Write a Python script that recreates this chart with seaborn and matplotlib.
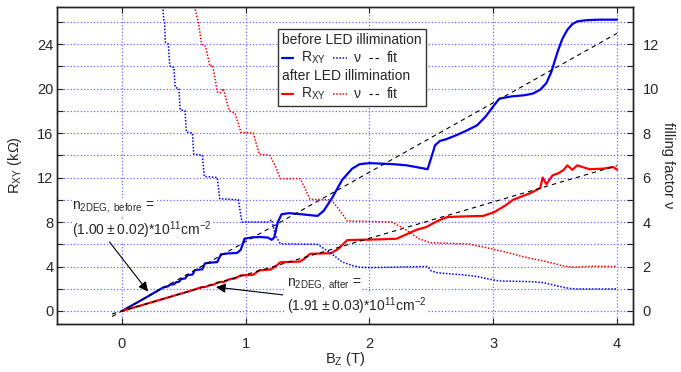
import numpy as np
import pandas as pd
import seaborn as sns
import matplotlib
matplotlib.use("Agg")
import matplotlib.pyplot as plt
from matplotlib.lines import Line2D
from matplotlib.ticker import MultipleLocator
from matplotlib.offsetbox import (AnchoredOffsetbox, VPacker, HPacker,
                                  TextArea, DrawingArea)

# ---- Hall resistance before LED illumination (B in T, R in kOhm) ----
B_before = [0.00, 0.10, 0.20, 0.30, 0.34, 0.37, 0.39, 0.42, 0.44, 0.46,
            0.48, 0.51, 0.53, 0.57, 0.59, 0.65, 0.67, 0.72, 0.77, 0.80,
            0.86, 0.93, 0.96, 0.99, 1.05, 1.12, 1.18, 1.21, 1.23, 1.26,
            1.29, 1.35, 1.45, 1.58, 1.63, 1.70, 1.78, 1.86, 1.92, 2.00,
            2.10, 2.20, 2.30, 2.40, 2.47, 2.50, 2.53, 2.57, 2.62, 2.70,
            2.78, 2.87, 2.94, 3.00, 3.05, 3.15, 3.25, 3.32, 3.38, 3.43,
            3.47, 3.52, 3.56, 3.60, 3.64, 3.68, 3.75, 3.85, 4.00]
R_before = [0.00, 0.62, 1.25, 1.90, 2.15, 2.20, 2.38, 2.40, 2.60, 2.62,
            2.88, 2.92, 3.22, 3.28, 3.68, 3.75, 4.28, 4.35, 4.40, 5.10,
            5.18, 5.22, 5.50, 6.50, 6.62, 6.65, 6.60, 6.40, 6.60, 8.00,
            8.70, 8.80, 8.70, 8.55, 9.00, 10.20, 11.80, 12.80, 13.20, 13.30,
            13.25, 13.20, 13.10, 12.90, 12.75, 13.80, 14.90, 15.30, 15.45, 15.80,
            16.20, 16.70, 17.50, 18.40, 19.10, 19.30, 19.40, 19.55, 19.90, 20.50,
            21.50, 23.30, 24.50, 25.30, 25.80, 26.05, 26.15, 26.20, 26.20]

# ---- filling factor before LED illumination ----
B_nu_before = [0.330, 0.338, 0.345, 0.350, 0.375, 0.385, 0.390, 0.420, 0.430, 0.460,
               0.470, 0.510, 0.520, 0.570, 0.580, 0.650, 0.665, 0.770, 0.790, 0.940,
               0.970, 1.180, 1.210, 1.240, 1.280, 1.580, 1.620, 1.700, 1.780, 1.860,
               1.920, 2.000, 2.470, 2.500, 2.550, 2.650, 2.750, 2.870, 2.950, 3.050,
               3.300, 3.400, 3.500, 3.580, 3.640, 3.700, 4.000]
nu_before = [13.70, 13.10, 13.00, 12.10, 12.00, 11.10, 11.00, 10.95, 10.05, 10.00,
             9.05, 9.00, 8.05, 8.00, 7.05, 7.00, 6.05, 6.00, 5.05, 5.00,
             4.00, 4.00, 4.10, 3.40, 3.02, 3.00, 2.85, 2.55, 2.20, 2.05,
             1.97, 1.95, 2.00, 1.80, 1.72, 1.67, 1.63, 1.55, 1.45, 1.35,
             1.32, 1.28, 1.15, 1.05, 1.00, 0.99, 0.99]

# ---- Hall resistance after LED illumination ----
B_after = [0.00, 0.20, 0.40, 0.55, 0.60, 0.64, 0.68, 0.71, 0.74, 0.77,
           0.80, 0.82, 0.85, 0.87, 0.91, 0.96, 1.06, 1.11, 1.20, 1.24,
           1.28, 1.44, 1.48, 1.52, 1.69, 1.75, 1.82, 1.90, 2.00, 2.10,
           2.22, 2.30, 2.38, 2.46, 2.55, 2.63, 2.75, 2.92, 3.01, 3.10,
           3.16, 3.30, 3.38, 3.40, 3.43, 3.48, 3.53, 3.57, 3.60, 3.64,
           3.68, 3.72, 3.78, 3.89, 3.97, 4.00]
R_after = [0.00, 0.65, 1.31, 1.80, 1.98, 2.13, 2.18, 2.33, 2.36, 2.55,
           2.62, 2.60, 2.75, 2.86, 2.92, 3.20, 3.25, 3.66, 3.72, 4.00,
           4.38, 4.45, 4.75, 5.14, 5.20, 5.60, 6.37, 6.40, 6.42, 6.45,
           6.50, 6.90, 7.30, 7.55, 8.10, 8.45, 8.50, 8.55, 8.90, 9.50,
           10.00, 10.60, 11.05, 12.00, 11.40, 12.20, 12.40, 12.70, 13.10, 12.70,
           13.10, 12.95, 12.75, 12.80, 12.95, 12.70]

# ---- filling factor after LED illumination ----
B_nu_after = [0.585, 0.617, 0.644, 0.676, 0.711, 0.733, 0.770, 0.792, 0.819, 0.867,
              0.913, 0.962, 1.061, 1.110, 1.196, 1.240, 1.280, 1.440, 1.480, 1.520,
              1.690, 1.750, 1.820, 2.180, 2.280, 2.400, 2.490, 2.800, 2.900, 3.030,
              3.150, 3.240, 3.430, 3.570, 3.650, 3.800, 4.000]
nu_after = [13.70, 13.00, 12.00, 11.90, 11.00, 11.05, 9.86, 9.80, 10.00, 9.00,
            8.90, 8.03, 8.00, 7.05, 7.00, 6.50, 5.95, 5.95, 5.50, 5.02,
            5.00, 4.60, 4.05, 4.00, 3.70, 3.25, 3.07, 3.01, 2.90, 2.74,
            2.58, 2.44, 2.22, 2.02, 1.97, 2.01, 2.00]

# ---- carrier densities from the linear fits (10^11 cm^-2) ----
n_before, dn_before = 1.00, 0.02
n_after, dn_after = 1.91, 0.03
fit_B = np.array([-0.08, 4.00])

# ---- axis ticks ----
x_ticks = [0, 1, 2, 3, 4]
R_ticks = [0, 4, 8, 12, 16, 20, 24]
nu_ticks = [0, 2, 4, 6, 8, 10, 12]

E_CHARGE = 1.602176634e-19


def hall_line(n11):
    """Classical Hall resistance (kOhm) for a density given in 1e11 cm^-2."""
    n_m2 = n11 * 1e11 * 1e4
    return fit_B / (n_m2 * E_CHARGE) / 1e3


BLUE = "#0000ee"
RED = "#ff0000"
GRID = "#6a6aff"
FRAME = "#222222"
DOTS = (0, (1, 1.1))

sns.set_style("ticks")
plt.rcParams.update({
    "font.family": ["Liberation Sans", "DejaVu Sans"],
    "font.size": 10.5,
    "mathtext.fontset": "custom",
    "mathtext.rm": "Liberation Sans",
    "mathtext.it": "Liberation Sans:italic",
    "mathtext.bf": "Liberation Sans:bold",
    "mathtext.sf": "Liberation Sans",
    "axes.edgecolor": FRAME,
    "axes.linewidth": 1.0,
})

fig = plt.figure(figsize=(6.81, 3.72), dpi=100)
ax = fig.add_axes([57 / 681, 1 - 324 / 372, 576 / 681, 317 / 372])
ax2 = ax.twinx()

# ---- limits: nu axis is half the R axis ----
ax.set_xlim(-0.525, 4.13)
ax.set_ylim(-1.17, 27.34)
ax2.set_ylim(-0.585, 13.67)

# ---- grid (drawn on the left axes so it stays behind everything) ----
ax.set_xticks(x_ticks)
ax.yaxis.set_major_locator(MultipleLocator(4))
ax.yaxis.set_minor_locator(MultipleLocator(2))
ax.set_yticks(R_ticks)
ax.grid(True, which="both", axis="y", ls=":", color=GRID, lw=0.9)
ax.grid(True, which="major", axis="x", ls=":", color=GRID, lw=0.9)
ax.set_axisbelow(True)

# ---- Hall resistance curves and fits ----
sns.lineplot(x=B_before, y=R_before, ax=ax, color=BLUE, lw=1.6,
             estimator=None, sort=False)
sns.lineplot(x=B_after, y=R_after, ax=ax, color=RED, lw=1.6,
             estimator=None, sort=False)
sns.lineplot(x=fit_B, y=hall_line(n_before), ax=ax, color="black", lw=0.8,
             linestyle=(0, (4, 3.5)), estimator=None, sort=False)
sns.lineplot(x=fit_B, y=hall_line(n_after), ax=ax, color="black", lw=0.8,
             linestyle=(0, (4, 3.5)), estimator=None, sort=False)

# ---- filling factor curves ----
sns.lineplot(x=B_nu_before, y=nu_before, ax=ax2, color=BLUE, lw=1.1,
             linestyle=DOTS, estimator=None, sort=False)
sns.lineplot(x=B_nu_after, y=nu_after, ax=ax2, color=RED, lw=1.1,
             linestyle=DOTS, estimator=None, sort=False)

# ---- ticks ----
ax.tick_params(axis="both", which="both", direction="in", top=True,
               right=False, length=4, width=0.8, color=FRAME, labelsize=10.5)
ax.tick_params(axis="x", pad=9.5)
ax.tick_params(axis="y", pad=2.5)
ax2.set_yticks(nu_ticks)
ax2.yaxis.set_minor_locator(MultipleLocator(1))
ax2.tick_params(axis="y", which="both", direction="in", length=4,
                width=0.8, color=FRAME, pad=7, labelsize=10.5)

# ---- axis labels ----
ax.set_xlabel(r"B$_\mathrm{Z}$ (T)", fontsize=10.5)
ax.xaxis.set_label_coords(0.5, (324 - 359) / 317)
ax.xaxis.label.set_va("center")
ax.set_ylabel(r"R$_\mathrm{XY}$ (kΩ)", fontsize=10.5)
ax.yaxis.set_label_coords((15 - 57) / 576, 0.5)
ax.yaxis.label.set_va("center")
ax2.set_ylabel("filling factor ν", rotation=-90, fontsize=10.5)
ax2.yaxis.set_label_coords((668 - 57) / 576, 0.5)
ax2.yaxis.label.set_va("center")

# ---- density annotations ----
white = dict(facecolor="white", edgecolor="none", pad=0.5)
arrow = dict(arrowstyle="-|>", color="black", lw=0.8, mutation_scale=14,
             shrinkA=0, shrinkB=0)
ax.text(-0.40, 9.35, r"n$_\mathrm{2DEG,\ before}$ =", fontsize=10,
        va="center", ha="left", bbox=white, zorder=5)
ax.text(-0.40, 7.25,
        f"({n_before:.2f}\u2009±\u2009{dn_before:.2f})*10" + r"$^{11}$cm$^{-2}$",
        fontsize=10, va="center", ha="left", bbox=white, zorder=5)
ax.annotate("", xy=(0.21, 1.75), xytext=(-0.10, 6.2), arrowprops=arrow,
            zorder=6)

ax.text(1.33, 2.4, r"n$_\mathrm{2DEG,\ after}$ =", fontsize=10,
        va="center", ha="left", bbox=white, zorder=5)
ax.text(1.33, 0.45,
        f"({n_after:.2f}\u2009±\u2009{dn_after:.2f})*10" + r"$^{11}$cm$^{-2}$",
        fontsize=10, va="center", ha="left", bbox=white, zorder=5)
ax.annotate("", xy=(0.76, 2.15), xytext=(1.30, 1.45), arrowprops=arrow,
            zorder=6)


# ---- legend box ----
def swatch(color, ls, lw, width):
    da = DrawingArea(width, 8, 0, 0)
    da.add_artist(Line2D([0, width], [4, 4], color=color, ls=ls, lw=lw))
    return da


def legend_row(color):
    items = [swatch(color, "-", 1.6, 8),
             TextArea(r"R$_\mathrm{XY}$", textprops=dict(size=10)),
             swatch(color, DOTS, 1.1, 9.5),
             TextArea("ν", textprops=dict(size=10)),
             swatch("black", (0, (3, 2.5)), 0.8, 7.5),
             TextArea("fit", textprops=dict(size=10))]
    return HPacker(children=items, align="center", pad=0, sep=5.5)


packed = VPacker(children=[TextArea("before LED illimination",
                                    textprops=dict(size=10)),
                           legend_row(BLUE),
                           TextArea("after LED illimination",
                                    textprops=dict(size=10)),
                           legend_row(RED)],
                 align="left", pad=0, sep=2)
box = AnchoredOffsetbox(loc="upper left", child=packed, pad=0.3, borderpad=0,
                        frameon=True, bbox_to_anchor=(0.3837, 0.9306),
                        bbox_transform=ax.transAxes, prop=dict(size=10))
box.patch.set_boxstyle("square", pad=0)
box.patch.set_edgecolor("#333333")
box.patch.set_linewidth(1.0)
box.set_zorder(10)
ax2.add_artist(box)

fig.savefig("out.png", dpi=100)
